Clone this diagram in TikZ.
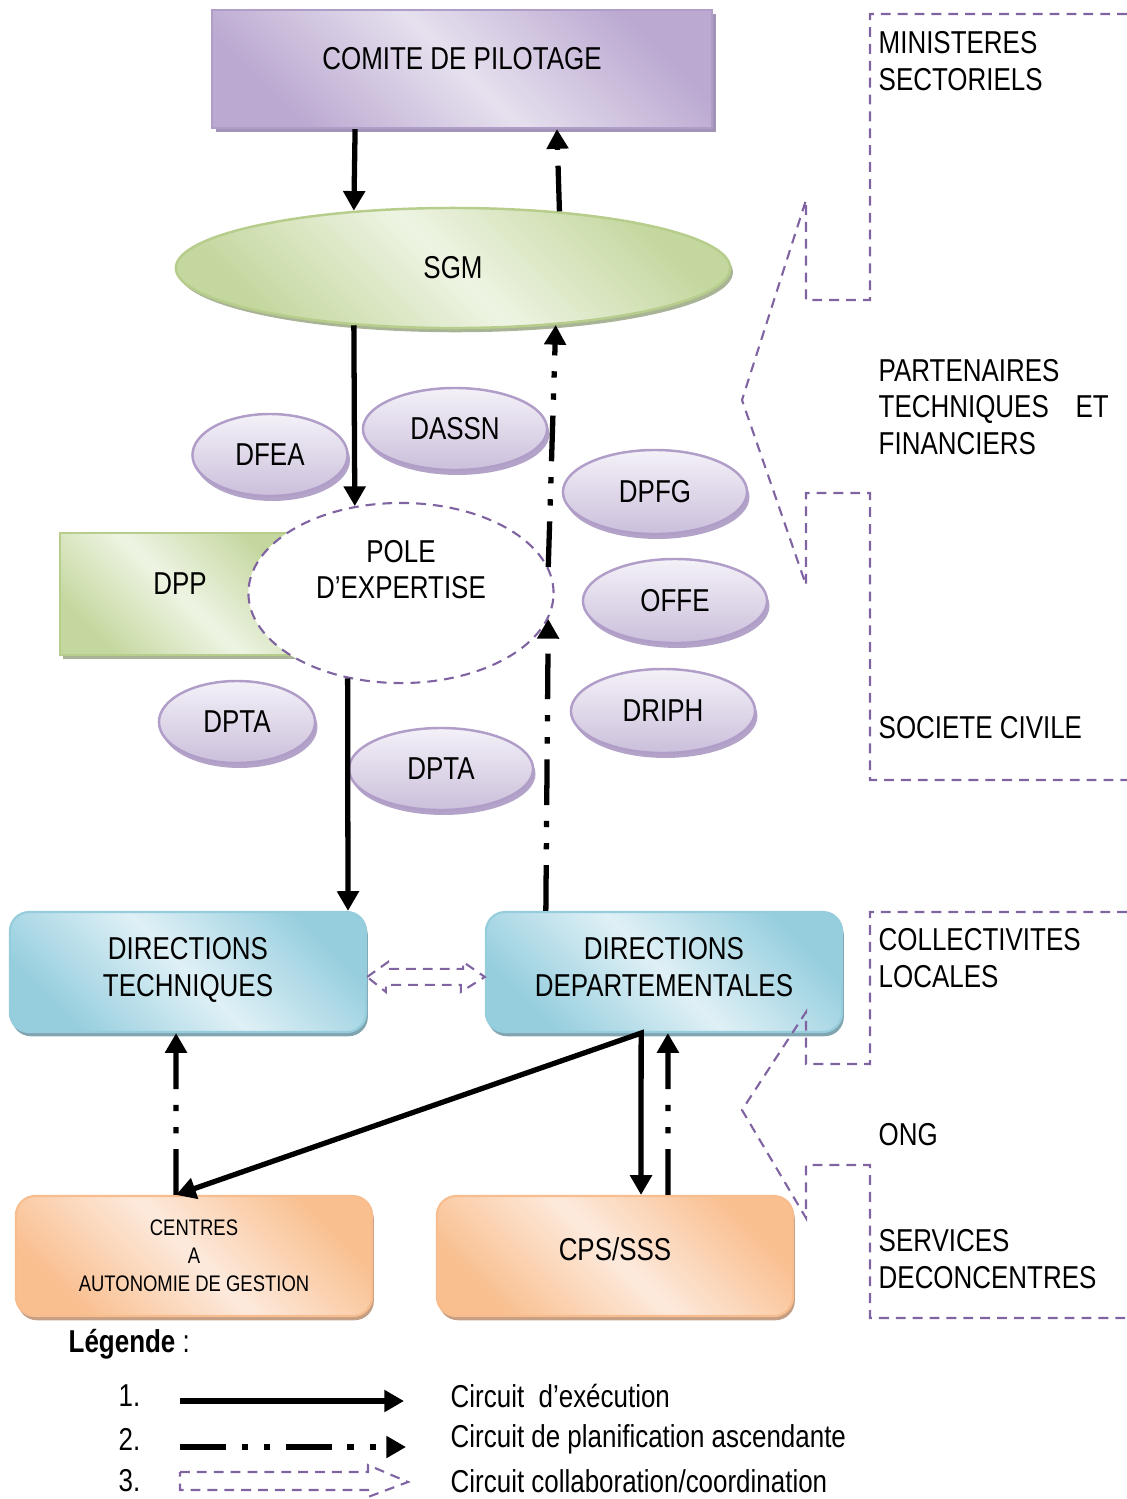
\documentclass[tikz,border=0pt]{standalone}
\usepackage{fontspec}
\setmainfont{Liberation Sans}[FakeStretch=0.82]
\usetikzlibrary{arrows.meta,shapes.geometric,shadows}
\definecolor{purA}{HTML}{E6E0EE}
\definecolor{purB}{HTML}{BBA9D1}
\definecolor{purLine}{HTML}{B09DC8}
\definecolor{purShadow}{HTML}{A393B6}
\definecolor{purTop}{HTML}{F4F1F8}
\definecolor{purBot}{HTML}{CBBFDB}
\definecolor{orbShadow}{HTML}{B3A3C8}
\definecolor{grnA}{HTML}{EEF4E3}
\definecolor{grnB}{HTML}{C4D79E}
\definecolor{grnLine}{HTML}{B6CD8B}
\definecolor{grnShadow}{HTML}{A9B496}
\definecolor{bluA}{HTML}{DFF0F6}
\definecolor{bluB}{HTML}{96CEDE}
\definecolor{bluLine}{HTML}{95CDDC}
\definecolor{bluShadow}{HTML}{80A4B0}
\definecolor{orgA}{HTML}{FDEADD}
\definecolor{orgB}{HTML}{F9BF8F}
\definecolor{orgLine}{HTML}{F7BD8E}
\definecolor{orgShadow}{HTML}{C59F84}
\definecolor{dashPur}{HTML}{8064A2}
\tikzset{
  base/.style={inner sep=0pt, font=\fontsize{9pt}{10.4pt}\selectfont},
  band/.style 2 args={left color=#2, right color=#2, middle color=#1, shading angle=-45},
  tip/.style={-{Triangle[length=5.6pt,width=6pt]}},
  exec/.style={line width=1.5pt, tip},
  plan/.style={line width=1.5pt, dash pattern=on 13pt off 4.5pt on 1.8pt off 4.5pt on 1.8pt off 4.5pt, tip},
  collab/.style={draw=dashPur, line width=0.6pt, dash pattern=on 2.8pt off 2pt},
  orb/.style={base, ellipse, draw=purLine, line width=0.7pt, top color=purTop, bottom color=purBot,
    general shadow={fill=orbShadow, shadow xshift=0.7pt, shadow yshift=-1.4pt}, minimum height=0.82cm},
  bluebox/.style={base, rectangle, rounded corners=5.5pt, draw=bluLine, line width=0.6pt, band={bluA}{bluB},
    general shadow={fill=bluShadow, shadow xshift=0.5pt, shadow yshift=-1.2pt},
    minimum width=3.56cm, minimum height=1.20cm, align=center},
  orgbox/.style={base, rectangle, rounded corners=5.5pt, draw=orgLine, line width=0.6pt, band={orgA}{orgB},
    general shadow={fill=orgShadow, shadow xshift=0.5pt, shadow yshift=-1.2pt},
    minimum width=3.56cm, minimum height=1.20cm, align=center},
  rtxt/.style={base, anchor=west, align=left},
  ltxt/.style={base, anchor=west}
}
\begin{document}
\begin{tikzpicture}[x=0.01cm,y=-0.01cm]
\useasboundingbox (0,0) rectangle (1127,1499);

% top box and SGM
\node[base, rectangle, draw=purLine, line width=0.6pt, band={purA}{purB},
  general shadow={fill=purShadow, shadow xshift=1.1pt, shadow yshift=-1.1pt},
  minimum width=4.99cm, minimum height=1.18cm, text height=6.5pt, text depth=6.3pt]
  (cp) at (462,69) {COMITE DE PILOTAGE};
\node[base, ellipse, draw=grnLine, line width=0.7pt, band={grnA}{grnB},
  general shadow={fill=grnShadow, shadow xshift=0.8pt, shadow yshift=-1.2pt},
  minimum width=5.54cm, minimum height=1.20cm] (sgm) at (453,268) {SGM};

% DPP and pole
\node[base, rectangle, draw=grnLine, line width=0.6pt, band={grnA}{grnB},
  general shadow={fill=grnShadow, shadow xshift=0.8pt, shadow yshift=-1.2pt},
  minimum width=2.40cm, minimum height=1.22cm, text height=6.5pt, text depth=6.3pt]
  (dpp) at (180,594) {DPP};
\node[base, ellipse, fill=white, collab, minimum width=3.05cm, minimum height=1.80cm, align=center]
  (pole) at (401,593) {POLE\\D’EXPERTISE\\\strut};

% small ellipses
\node[orb, minimum width=1.55cm] (dfea) at (270,455) {DFEA};
\node[orb, minimum width=1.84cm] (dassn) at (455,429) {DASSN};
\node[orb, minimum width=1.84cm, minimum height=0.84cm] (dpfg) at (655,492) {DPFG};
\node[orb, minimum width=1.84cm, minimum height=0.84cm] (offe) at (675,601) {OFFE};
\node[orb, minimum width=1.84cm, minimum height=0.84cm] (driph) at (663,711) {DRIPH};
\node[orb, minimum width=1.56cm] (dptaA) at (237,722) {DPTA};
\node[orb, minimum width=1.84cm] (dptaB) at (441,769) {DPTA};

% directions
\node[bluebox] (dt) at (188,972) {DIRECTIONS\\TECHNIQUES\\[-7.6pt]};
\node[bluebox] (dd) at (664,972) {DIRECTIONS\\DEPARTEMENTALES\\[-7.6pt]};

% bottom boxes
\node[orgbox, font=\fontsize{6.4pt}{8pt}\selectfont] (centres) at (194,1256) {CENTRES\\A\\AUTONOMIE DE GESTION};
\node[orgbox, text height=6.5pt, text depth=4pt] (cps) at (615,1256) {CPS/SSS};

% arrows
\draw[exec] ([xshift=-30.4pt]cp.south) -- (sgm.150);
\draw[plan] (sgm.28) -- ([xshift=27pt]cp.south);
\draw[exec] (sgm.-150) -- (pole.118);
\draw[plan] (pole.10) -- (sgm.-29);
\draw[exec] (pole.-122) -- ([xshift=45.5pt]dt.north);
\draw[plan] ([xshift=-33.6pt]dd.north) -- (pole.-10.5);
\draw[plan] ([xshift=-5.1pt]centres.north) -- ([xshift=-3.4pt]dt.south);
\draw[line width=1.5pt, {Triangle[length=5.6pt,width=6pt]}-{Triangle[length=5.6pt,width=6pt]}]
  ([xshift=-5.1pt]centres.north) -- ([xshift=-6.5pt]dd.south) -- ([xshift=7.4pt]cps.north);
\draw[plan] ([xshift=15.1pt]cps.north) -- ([xshift=1.1pt]dd.south);

% collaboration double arrow
\draw[collab] ([yshift=-1.4pt]dt.east) -- ++(21,-15) -- ++(0,7) -- ++(75,0) -- ++(0,-7)
  -- ([yshift=-1.4pt]dd.west) -- ++(-24,15) -- ++(0,-7) -- ++(-75,0) -- ++(0,7) -- cycle;

% right brackets
\draw[collab] (1127,14) -- (870,14) -- (870,300) -- (806,300) -- (806,200) -- (742,400)
  -- (806,585) -- (806,493) -- (870,493) -- (870,780) -- (1127,780);
\draw[collab] (1127,912) -- (870,912) -- (870,1064) -- (806,1064) -- (806,1012) -- (742,1110)
  -- (806,1218) -- (806,1165) -- (870,1165) -- (870,1318) -- (1127,1318);

\node[rtxt] (mins) at (878,61) {MINISTERES\\SECTORIELS};
\node[rtxt, text width=2.30cm] (ptf) at (878,407) {PARTENAIRES\\TECHNIQUES\hspace{0pt plus 1filll}ET\\FINANCIERS};
\node[rtxt] (soc) at (878,728) {SOCIETE CIVILE};
\node[rtxt] (coll) at (878,958) {COLLECTIVITES\\LOCALES};
\node[rtxt] (ong) at (878,1135) {ONG};
\node[rtxt] (serv) at (878,1259) {SERVICES\\DECONCENTRES};

% legend
\node[ltxt] (leg) at (68,1344) {\textbf{Légende} :};
\node[ltxt] (n1) at (118,1396) {1.};
\node[ltxt] (n2) at (118,1439) {2.};
\node[ltxt] (n3) at (118,1481) {3.};
\coordinate (l1s) at (180,1401);
\coordinate (l1e) at (404,1401);
\coordinate (l2s) at (180,1447);
\coordinate (l2e) at (406,1447);
\coordinate (l3s) at (180,1481);
\draw[exec] (l1s) -- (l1e);
\draw[plan] (l2s) -- (l2e);
\draw[collab] (l3s) ++(0,-9) -- ++(188,0) -- ++(0,-7) -- ++(40,17) -- ++(-40,15) -- ++(0,-7) -- ++(-188,0) -- cycle;
\node[ltxt] (t1) at (450,1396) {Circuit~ d’exécution};
\node[ltxt] (t2) at (450,1439) {Circuit de planification ascendante};
\node[ltxt] (t3) at (450,1481) {Circuit collaboration/coordination};
\end{tikzpicture}
\end{document}
